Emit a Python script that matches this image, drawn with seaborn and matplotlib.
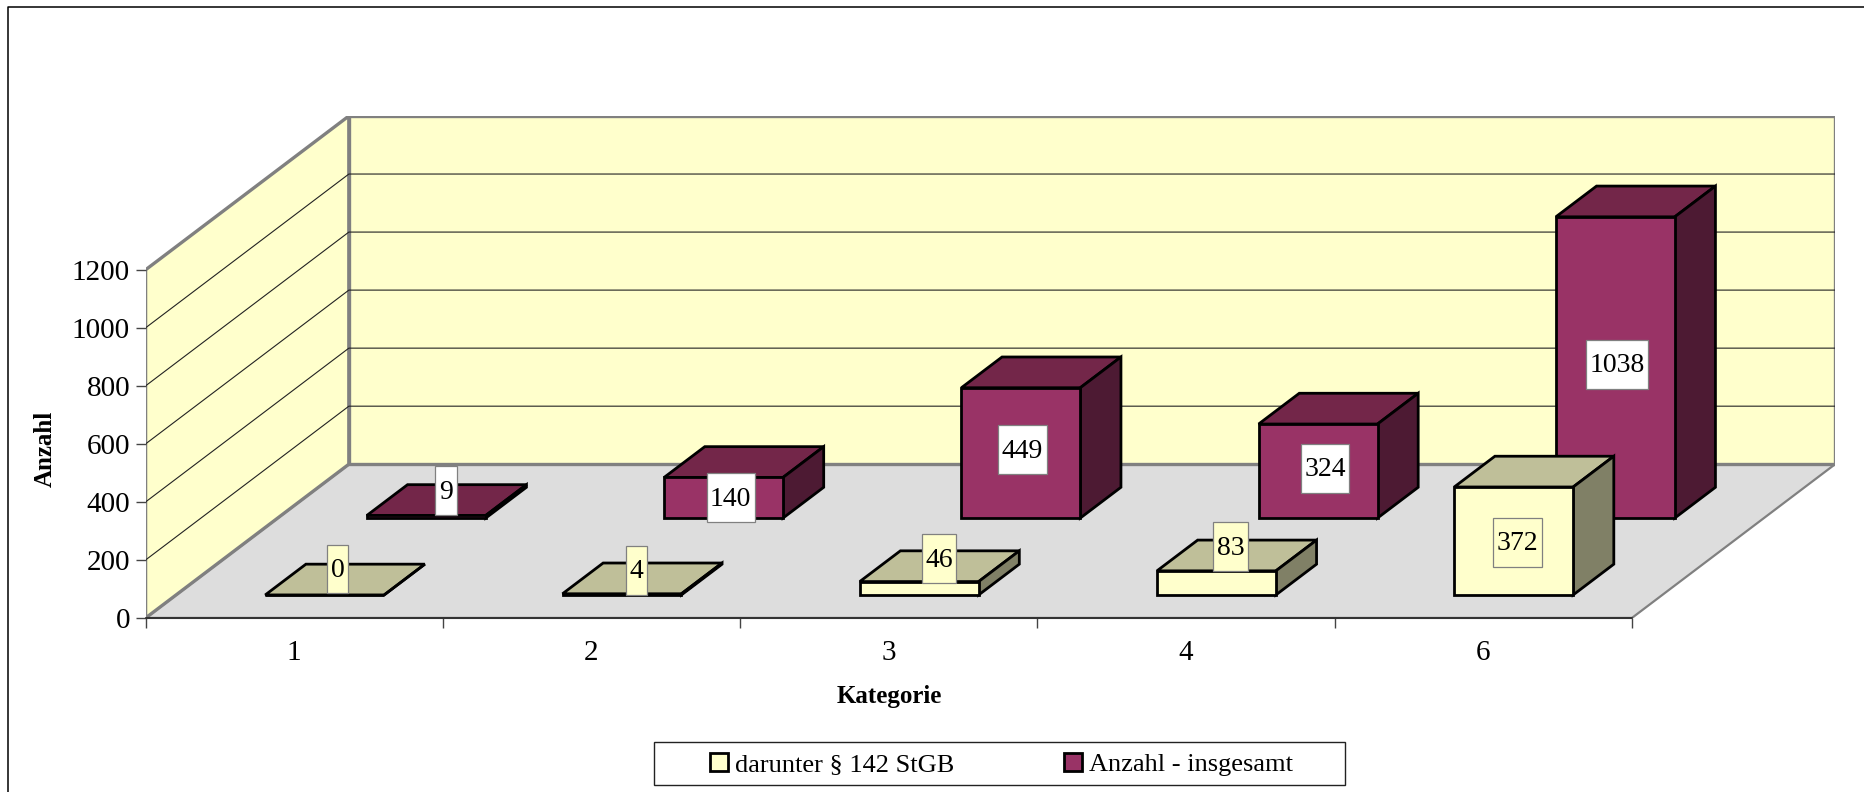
import pandas as pd
import matplotlib.pyplot as plt
import seaborn as sns
from matplotlib.lines import Line2D
from matplotlib.patches import Patch, Polygon, Rectangle

# values
categories = ['1', '2', '3', '4', '6']
darunter = [0, 4, 46, 83, 372]
insgesamt = [9, 140, 449, 324, 1038]

yticks = [0, 200, 400, 600, 800, 1000, 1200]

# hand placed value label shifts in pixels (right, up)
shift_darunter = [(13, 26), (14.5, 24), (19.7, 29.6), (14.3, 36), (3.6, -1.3)]
shift_insgesamt = [(19.7, 26), (7.2, 0), (1.6, 3), (7, 3), (1.6, 3)]

YELLOW = ('#FFFFCC', '#BFBF99', '#808066')
PURPLE = ('#993366', '#732649', '#4D1A33')

W, H = 1865, 792
X0, X1, Y0, Y1 = 145.6, 1835.1, 618, 116
PX_CAT = 297.3
PX_VAL = 348.7 / 1200
DEPTH_X = 203.3 / PX_CAT   # full floor depth in category units
DEPTH_Y = 154 / PX_VAL     # full floor depth in value units
BAR_W = 0.4
EDGE = 2.0

sns.set_theme(style='white')
plt.rcParams['font.family'] = ['Liberation Serif']
plt.rcParams['text.color'] = 'black'

fig = plt.figure(figsize=(W / 100, H / 100), dpi=100)
ax = fig.add_axes([X0 / W, 1 - Y0 / H, (X1 - X0) / W, (Y0 - Y1) / H])


def project(cat, val, depth):
    return cat + depth * DEPTH_X, val + depth * DEPTH_Y


def draw_row(values, colors, start, depth, zorder, shifts, label_bg):
    n_before = len(ax.patches)
    df = pd.DataFrame({'cat': categories, 'val': values})
    sns.barplot(data=df, x='cat', y='val', color=colors[0], saturation=1,
                width=BAR_W, edgecolor='black', linewidth=EDGE, ax=ax)
    fronts = ax.patches[n_before:]
    for i, (p, v) in enumerate(zip(fronts, values)):
        # move the front face back to where the row stands on the floor
        left, base = project(p.get_x(), 0, start)
        p.set_x(left)
        p.set_y(base)
        p.set_zorder(zorder + 1)
        right = left + BAR_W
        top = base + v
        dx, dy = depth * DEPTH_X, depth * DEPTH_Y
        ax.add_patch(Polygon([(left, top), (right, top), (right + dx, top + dy), (left + dx, top + dy)],
                             facecolor=colors[1], edgecolor='black', lw=EDGE, zorder=zorder))
        ax.add_patch(Polygon([(right, base), (right + dx, base + dy), (right + dx, top + dy), (right, top)],
                             facecolor=colors[2], edgecolor='black', lw=EDGE, zorder=zorder))
        # value label
        cx = left + BAR_W / 2 + shifts[i][0] / PX_CAT
        cy = base + v / 2 + shifts[i][1] / PX_VAL
        bw = (len(str(v)) * 13.7 + 7.4) / PX_CAT
        bh = 49 / PX_VAL
        ax.add_patch(Rectangle((cx - bw / 2, cy - bh / 2), bw, bh, facecolor=label_bg,
                               edgecolor='#808080', lw=0.9, zorder=20))
        ax.text(cx, cy - 1.5 / PX_VAL, str(v), ha='center', va='center', fontsize=20,
                color='black', zorder=21)


# floor and walls
x_left, x_right = -0.5, 4.5
ymax = 1200
wall = '#808080'
ax.add_patch(Polygon([project(x_left, 0, 0), project(x_right, 0, 0), project(x_right, 0, 1), project(x_left, 0, 1)],
                     facecolor='#DDDDDD', edgecolor=wall, lw=1.6, zorder=0))
ax.add_patch(Polygon([project(x_left, 0, 0), project(x_left, ymax, 0), project(x_left, ymax, 1), project(x_left, 0, 1)],
                     facecolor='#FFFFCC', edgecolor=wall, lw=2.4, zorder=0.5))
ax.add_patch(Polygon([project(x_left, 0, 1), project(x_left, ymax, 1), project(x_right, ymax, 1), project(x_right, 0, 1)],
                     facecolor='#FFFFCC', edgecolor=wall, lw=2.4, zorder=0.5))
for v in yticks[1:-1]:
    xs, ys = zip(project(x_left, v, 0), project(x_left, v, 1), project(x_right, v, 1))
    ax.plot(xs, ys, color='#222222', lw=0.8, zorder=0.8)

# back row first, front row on top of it
draw_row(insgesamt, PURPLE, 0.65, 0.2, 3, shift_insgesamt, 'white')
draw_row(darunter, YELLOW, 0.15, 0.2, 6, shift_darunter, '#FFFFCC')

ax.set_xlim(x_left, x_right + DEPTH_X)
ax.set_ylim(0, ymax + DEPTH_Y)
ax.patch.set_visible(False)

for side in ['top', 'right', 'left', 'bottom']:
    ax.spines[side].set_visible(False)
ax.plot([x_left, x_right], [0, 0], color='#333333', lw=1.5, zorder=1, clip_on=False)

ax.set_yticks(yticks)
ax.set_yticklabels([str(v) for v in yticks], fontsize=21, color='black')
ax.tick_params(axis='y', left=True, length=7.2, width=1, color='#444444', pad=4)
ax.set_xticks(range(len(categories)))
ax.set_xticklabels(categories, fontsize=21, color='black')
ax.tick_params(axis='x', which='major', bottom=False, length=0, pad=16)
ax.set_xticks([x_left + i for i in range(len(categories) + 1)], minor=True)
ax.tick_params(axis='x', which='minor', bottom=True, length=7.2, width=1, color='#444444')
ax.set_xlabel('')
ax.set_ylabel('')

fig.text(889 / W, 1 - 696 / H, 'Kategorie', fontsize=18, fontweight='bold', ha='center', va='center')
fig.text(45 / W, 1 - 449 / H, 'Anzahl', fontsize=18, fontweight='bold', rotation=90, ha='center', va='center')

# legend box
fig.add_artist(Rectangle((654.4 / W, 1 - 785 / H), 690.6 / W, 42.7 / H, transform=fig.transFigure,
                         facecolor='white', edgecolor='#222222', lw=1))
handles = [Patch(facecolor=YELLOW[0], edgecolor='black', lw=EDGE, label='darunter § 142 StGB'),
           Patch(facecolor=PURPLE[0], edgecolor='black', lw=EDGE, label='Anzahl - insgesamt')]
leg = fig.legend(handles=handles, ncol=2, loc='center', bbox_to_anchor=(1001.5 / W, 1 - 764.5 / H),
                 frameon=False, fontsize=19, handlelength=0.68, handleheight=0.68,
                 handletextpad=0.27, columnspacing=4.15)
leg.set_zorder(5)

# outer chart frame, the right and bottom sides are cut off in the original
fig.add_artist(Line2D([8.3 / W, 8.3 / W, 1], [0, 1 - 7 / H, 1 - 7 / H], color='black', lw=1.1))

plt.savefig('out.png', dpi=100)
